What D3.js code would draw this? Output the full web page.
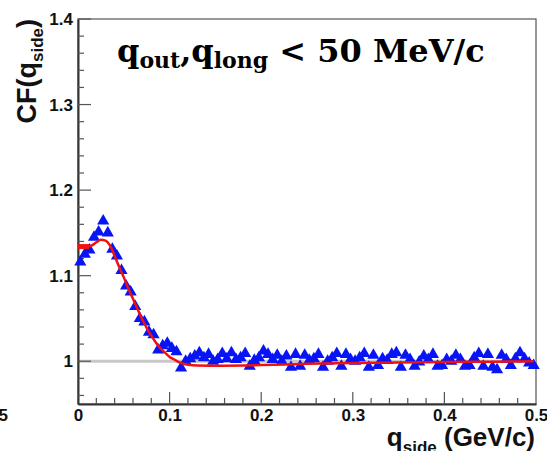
<!DOCTYPE html>
<html lang="en">
<head>
  <meta charset="UTF-8">
  <title>CF(q_side)</title>
  <script src="https://cdn.jsdelivr.net/npm/d3@7"></script>
  <style>
    body { margin: 0; background: #fff; }
    text { font-weight: bold; }
  </style>
</head>
<body>
<script>
  // bin width 0.005, first bin centre 0.0025
  const binWidth = 0.005
  const cfValues = [
    1.116, 1.125, 1.130, 1.145, 1.151, 1.164, 1.150, 1.131, 1.123, 1.106,
    1.088, 1.081, 1.064, 1.050, 1.046, 1.034, 1.031, 1.013, 1.018, 1.021,
    1.015, 1.011, 0.992, 1.000, 1.003, 1.006, 1.010, 1.004, 1.008, 1.000,
    1.002, 1.009, 1.003, 1.010, 1.002, 1.004, 1.009, 0.994, 1.001, 1.004,
    1.012, 1.008, 1.002, 1.007, 1.000, 1.006, 0.993, 1.008, 0.994, 1.007,
    1.001, 1.003, 1.008, 0.993, 1.000, 1.004, 1.009, 0.994, 1.008, 1.002,
    1.000, 1.004, 1.009, 0.993, 1.007, 0.995, 1.003, 1.001, 1.008, 1.010,
    0.993, 1.007, 1.002, 0.994, 0.999, 1.006, 1.002, 1.008, 0.994, 0.995,
    1.002, 1.000, 1.007, 1.002, 0.994, 0.995, 1.004, 1.009, 0.994, 1.008,
    0.993, 0.990, 1.007, 1.002, 0.995, 1.003, 1.010, 1.003, 0.998, 0.995
  ]

  // fit curve
  const fitQ = [0, 0.012, 0.016, 0.02, 0.025, 0.03, 0.035, 0.04, 0.045, 0.05, 0.055, 0.06,
    0.065, 0.07, 0.075, 0.08, 0.085, 0.09, 0.095, 0.1, 0.105, 0.11, 0.115, 0.12, 0.13,
    0.15, 0.2, 0.25, 0.3, 0.35, 0.4, 0.45, 0.4975]
  const fitCF = [1.134, 1.134, 1.136, 1.139, 1.142, 1.141, 1.135, 1.123, 1.110, 1.098, 1.085, 1.073,
    1.061, 1.049, 1.039, 1.030, 1.022, 1.015, 1.010, 1.005, 1.002, 0.999, 0.997, 0.996, 0.995,
    0.9948, 0.9955, 0.997, 0.998, 0.9985, 0.999, 0.9995, 1.0]

  const xTicks = [0, 0.1, 0.2, 0.3, 0.4, 0.5]
  const yTicks = [1, 1.1, 1.2, 1.3, 1.4]
  const xDomain = [0, 0.5]
  const yDomain = [0.95, 1.4]

  const width = 547, height = 451
  const margin = { top: 19, right: 11, bottom: 47, left: 78 }
  const sans = "'Liberation Sans', Arial, sans-serif"

  const svg = d3.select("body").append("svg")
    .attr("width", width)
    .attr("height", height)

  const x = d3.scaleLinear().domain(xDomain).range([margin.left, width - margin.right])
  const y = d3.scaleLinear().domain(yDomain).range([height - margin.bottom, margin.top])

  // frame top / right
  svg.append("rect")
    .attr("x", x(0)).attr("y", y(1.4))
    .attr("width", x(0.5) - x(0)).attr("height", y(0.95) - y(1.4))
    .attr("fill", "none").attr("stroke", "#555").attr("stroke-width", 1.2)

  // reference line at 1
  svg.append("line")
    .attr("x1", x(0)).attr("x2", x(0.5))
    .attr("y1", y(1)).attr("y2", y(1))
    .attr("stroke", "#c8c8c8").attr("stroke-width", 3)

  // axes
  const yAxis = d3.axisLeft(y).tickValues(yTicks).tickFormat(d3.format("")).tickSize(0).tickPadding(5)
  const xAxis = d3.axisBottom(x).tickValues(xTicks).tickFormat(d3.format("")).tickSize(0).tickPadding(5)

  const gy = svg.append("g").attr("transform", `translate(${x(0)},0)`).call(yAxis)
  const gx = svg.append("g").attr("transform", `translate(0,${y(0.95)})`).call(xAxis)
  for (const g of [gx, gy]) {
    g.select(".domain").attr("stroke", "#333").attr("stroke-width", 2)
    g.selectAll("text").attr("font-size", 17).attr("font-weight", "bold").attr("fill", "#111")
      .style("font-family", sans)
  }
  gx.selectAll("text").attr("dy", "0.72em")

  // inner ticks
  const yMinor = d3.range(0.96, 1.401, 0.02)
  svg.append("g").selectAll("line").data(yMinor).enter().append("line")
    .attr("x1", x(0))
    .attr("x2", d => x(0) + (Math.abs(d * 10 - Math.round(d * 10)) < 1e-6 ? 13 : 6))
    .attr("y1", d => y(d)).attr("y2", d => y(d))
    .attr("stroke", "#555").attr("stroke-width", 1.2)

  const xMinor = d3.range(0.02, 0.5, 0.02)
  svg.append("g").selectAll("line").data(xMinor).enter().append("line")
    .attr("x1", d => x(d)).attr("x2", d => x(d))
    .attr("y1", y(0.95))
    .attr("y2", d => y(0.95) - (Math.abs(d * 10 - Math.round(d * 10)) < 1e-6 ? 12 : 6))
    .attr("stroke", "#555").attr("stroke-width", 1.2)

  // data markers
  const points = cfValues.map((v, i) => ({ q: binWidth * (i + 0.5), v: v }))
  const tri = d3.symbol().type(d3.symbolTriangle).size(64)
  svg.append("g").selectAll("path").data(points).enter().append("path")
    .attr("d", tri)
    .attr("transform", d => `translate(${x(d.q)},${y(d.v)})`)
    .attr("fill", "#0714f5")

  // fit curve
  const fitPts = fitQ.map((q, i) => [q, fitCF[i]])
  const line = d3.line().x(d => x(d[0])).y(d => y(d[1])).curve(d3.curveMonotoneX)
  svg.append("path").datum(fitPts.slice(0, 2))
    .attr("d", line).attr("fill", "none").attr("stroke", "#f01010").attr("stroke-width", 5)
  svg.append("path").datum(fitPts)
    .attr("d", line).attr("fill", "none").attr("stroke", "#f01010").attr("stroke-width", 2.5)

  // y title
  const yt = svg.append("text")
    .attr("transform", `translate(36,19) rotate(-90)`)
    .attr("text-anchor", "end")
    .style("font-family", sans)
    .attr("font-size", 27).attr("fill", "#111")
  yt.append("tspan").text("CF(q")
  yt.append("tspan").text("side").attr("font-size", 17).attr("dy", 7)
  yt.append("tspan").text(")").attr("dy", -7)

  // x title
  const xt = svg.append("text")
    .attr("x", 535).attr("y", 446)
    .attr("text-anchor", "end")
    .style("font-family", sans)
    .attr("font-size", 26).attr("fill", "#111")
  xt.append("tspan").text("q")
  xt.append("tspan").text("side").attr("font-size", 17).attr("dy", 7)
  xt.append("tspan").text(" (GeV/c)").attr("dy", -7)

  // clipped label from the neighbouring pad
  svg.append("text").attr("x", 8).attr("y", 421).attr("text-anchor", "end")
    .style("font-family", sans)
    .attr("font-size", 17).attr("fill", "#111").text("0.5")

  // annotation
  const ann = svg.append("text")
    .attr("x", 117).attr("y", 62)
    .style("font-family", "'DejaVu Serif', serif")
    .attr("font-size", 32).attr("fill", "#000")
  ann.append("tspan").text("q")
  ann.append("tspan").text("out").attr("font-size", 22).attr("dy", 6)
  ann.append("tspan").text(",").attr("dy", -6)
  ann.append("tspan").text("q")
  ann.append("tspan").text("long").attr("font-size", 22).attr("dy", 6)
  ann.append("tspan").text(" < 50 MeV/c").attr("dy", -6)
</script>
</body>
</html>
